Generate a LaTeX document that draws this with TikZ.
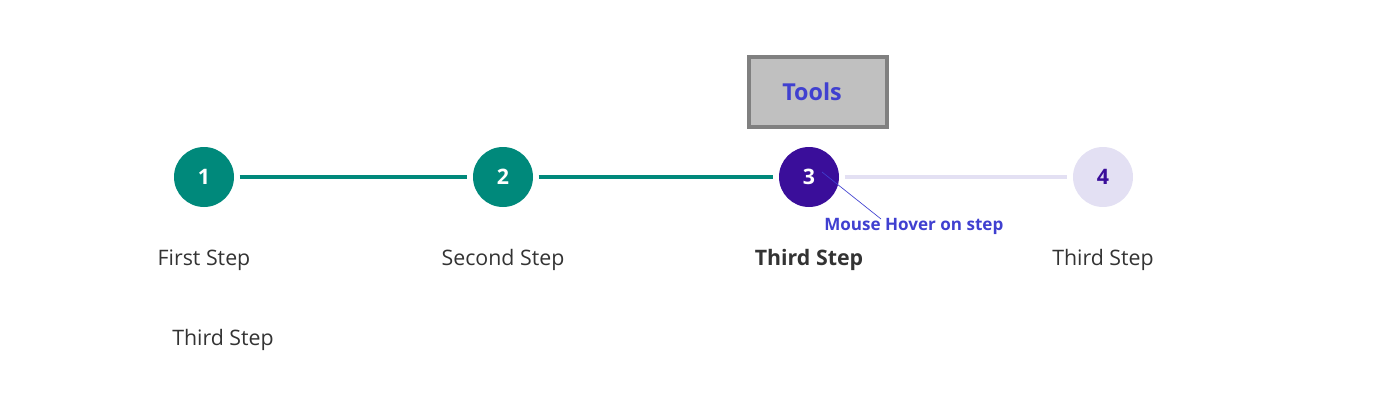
\documentclass[tikz,border=0pt]{standalone}
\usepackage{fontspec}
\setmainfont{Open Sans}
\usepackage{xcolor}
\definecolor{doneteal}{HTML}{00897B}
\definecolor{activepurple}{HTML}{3A0E9A}
\definecolor{todolav}{HTML}{E3E0F3}
\definecolor{labeltext}{HTML}{333333}
\definecolor{hoverblue}{HTML}{4040D0}
\definecolor{boxgray}{HTML}{C0C0C0}
\definecolor{boxedge}{HTML}{808080}
\usepackage{tikz}
\usetikzlibrary{positioning}

\begin{document}
\begin{tikzpicture}[x=0.75pt,y=-0.75pt,font=\fontsize{16}{18}\selectfont]
  \useasboundingbox (0,0) rectangle (1400,418);
  \tikzset{
    stepdot/.style={circle, minimum size=45pt, inner sep=0pt, font=\fontsize{16}{18}\selectfont\bfseries},
    steplabel/.style={text=labeltext, inner sep=0pt},
    track/.style={line width=2.6pt, shorten <=4pt, shorten >=4pt}
  }
  % step circles
  \node[stepdot, fill=doneteal, text=white] (s1) at (204,177) {1};
  \node[stepdot, fill=doneteal, text=white] (s2) at (503,177) {2};
  \node[stepdot, fill=activepurple, text=white] (s3) at (809,177) {3};
  \node[stepdot, fill=todolav, text=activepurple] (s4) at (1103,177) {4};
  % connecting lines
  \draw[track, doneteal] (s1) -- (s2);
  \draw[track, doneteal] (s2) -- (s3);
  \draw[track, todolav] (s3) -- (s4);
  % labels
  \node[steplabel] (l1) at (204,260) {First Step};
  \node[steplabel] (l2) at (503,260) {Second Step};
  \node[steplabel, font=\fontsize{16}{18}\selectfont\bfseries] (l3) at (809,260) {Third Step};
  \node[steplabel] (l4) at (1103,260) {Third Step};
  \node[steplabel] (l5) at (223,340) {Third Step};
  % tools box
  \node[rectangle, draw=boxedge, line width=3pt, fill=boxgray,
    minimum width=104pt, minimum height=52pt, text=hoverblue,
    font=\fontsize{17.5}{20}\selectfont\bfseries] (tools) at (818,92) {\hspace*{-9pt}Tools};
  % hover note
  \node[anchor=west, inner sep=0pt, text=hoverblue,
    font=\fontsize{12.8}{15}\selectfont\bfseries] (hover) at (824,226) {Mouse Hover on step};
  \coordinate (tip) at (822,172);
  \coordinate (foot) at (881,219);
  \draw[hoverblue, line width=0.5pt] (tip) -- (foot);
\end{tikzpicture}
\end{document}
